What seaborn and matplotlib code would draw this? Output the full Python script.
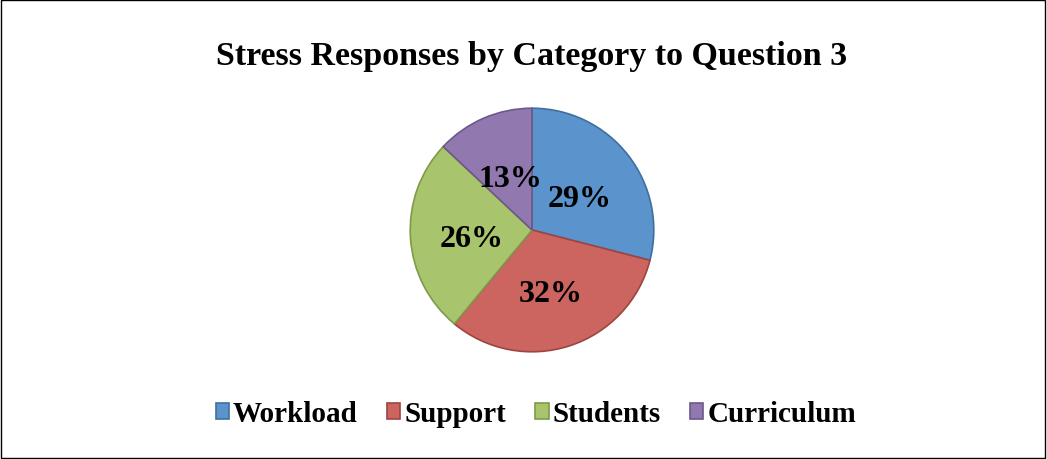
import matplotlib
matplotlib.use("Agg")
import matplotlib.pyplot as plt
import seaborn as sns
from matplotlib.patches import Patch, Rectangle

categories = ["Workload", "Support", "Students", "Curriculum"]
shares = [29, 32, 26, 13]
face_colors = ["#5B93CC", "#CC645F", "#A8C46C", "#9179AF"]
edge_colors = ["#3F6F9F", "#9E4441", "#7F9A4A", "#6C5889"]
title = "Stress Responses by Category to Question 3"

sns.set_theme(style="white")
plt.rcParams["font.family"] = ["Liberation Serif", "DejaVu Serif"]
plt.rcParams["text.color"] = "black"

fig = plt.figure(figsize=(10.47, 4.6), dpi=100)
fig.patch.set_facecolor("white")
fig.patches.append(Rectangle((0.001, 0.002), 0.997, 0.996, transform=fig.transFigure,
                             fill=False, edgecolor="black", linewidth=1.0))

# pie axes: center ~ (532, 231) px, radius ~123 px
W, H = 1047, 460
cx, cy, r = 532, 231, 123
ax = fig.add_axes([(cx - r) / W, 1 - (cy + r) / H, 2 * r / W, 2 * r / H])

wedges, texts, autotexts = ax.pie(
    shares,
    colors=face_colors,
    startangle=90,
    counterclock=False,
    autopct=lambda p: f"{p:.0f}%",
    pctdistance=0.5,
    wedgeprops=dict(linewidth=1.2),
    textprops=dict(fontsize=23, fontweight="bold", color="black"),
)
for w, ec in zip(wedges, edge_colors):
    w.set_edgecolor(ec)

# nudge the percentage labels a little lower; the small slice's label sits nearer the split
label_nudge = [(0.0, -0.045), (0.0, -0.05), (0.0, -0.035), (0.02, -0.04)]
for t, (dx, dy) in zip(autotexts, label_nudge):
    x, y = t.get_position()
    t.set_position((x + dx, y + dy))

ax.set_aspect("equal")
ax.set_xlim(-1.01, 1.01)
ax.set_ylim(-1.01, 1.01)
ax.axis("off")

fig.text(0.5076, 1 - 56 / H, title, ha="center", va="center",
         fontsize=24.5, fontweight="bold", color="black")

handles = [Patch(facecolor=fc, edgecolor=ec, linewidth=1.2)
           for fc, ec in zip(face_colors, edge_colors)]
fig.legend(handles, categories, loc="center", bbox_to_anchor=(0.512, 1 - 415 / H),
           ncol=4, frameon=False, prop=dict(size=21, weight="bold"),
           labelcolor="black",
           handlelength=0.45, handleheight=0.45, handletextpad=0.15, columnspacing=1.0)

fig.savefig("out.png", dpi=100, facecolor="white")
